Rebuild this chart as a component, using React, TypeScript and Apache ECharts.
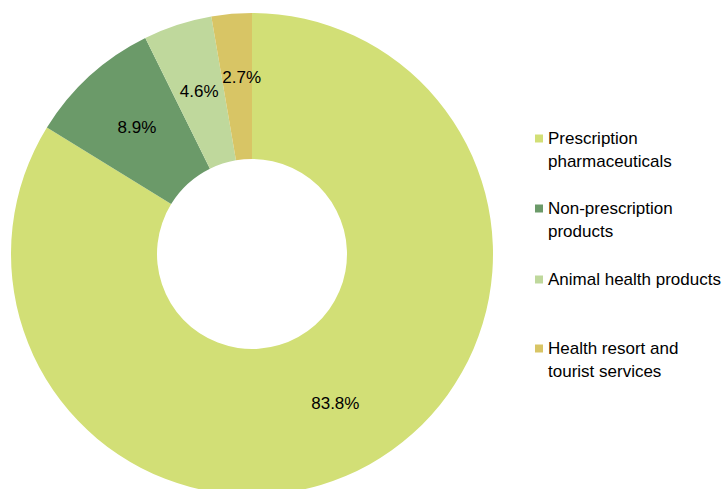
import React, { useEffect, useRef } from "react";
import * as echarts from "echarts";

const categories = [
  "Prescription\npharmaceuticals",
  "Non-prescription\nproducts",
  "Animal health products",
  "Health resort and\ntourist services",
];
const values = [83.8, 8.9, 4.6, 2.7];
const colors = ["#D2DF76", "#6B9A69", "#BFD89C", "#D8C565"];

const FONT = "'Liberation Sans', Arial, sans-serif";

export default function App() {
  const ref = useRef<HTMLDivElement>(null);
  useEffect(() => {
    if (!ref.current) return;
    const chart = echarts.init(ref.current, undefined, { renderer: "svg" });
    const legendTops = [104, 174, 268, 314];
    const legends = categories.map((c, i) => ({
      data: [c],
      left: 535,
      top: legendTops[i],
      padding: 0,
      icon: "rect",
      itemWidth: 8,
      itemHeight: 8,
      selectedMode: false,
      formatter: (name: string) => (name.includes("\n") ? "\n" + name : name),
      textStyle: {
        fontFamily: FONT,
        fontSize: 17,
        color: "#000",
        lineHeight: 23,
      },
    }));
    const data = categories.map((c, i) => {
      const item: any = { name: c, value: values[i] };
      if (i === 3) {
        // the slice is too thin for an "inside" label, so place it from the outer edge inward
        item.label = { position: "outside", distanceToLabelLine: -24 };
        item.labelLine = { show: false, length: -64, length2: 0 };
      }
      return item;
    });
    chart.setOption({
      animation: false,
      backgroundColor: "#fff",
      color: colors,
      legend: legends,
      series: [
        {
          type: "pie",
          center: [252, 254],
          radius: [95, 241],
          startAngle: 90,
          clockwise: true,
          avoidLabelOverlap: false,
          label: {
            show: true,
            position: "inside",
            fontFamily: FONT,
            fontSize: 17,
            color: "#000",
            formatter: (p: any) => p.value.toFixed(1) + "%",
          },
          labelLine: { show: false },
          emphasis: { disabled: true },
          data,
        },
      ],
    });
    return () => chart.dispose();
  }, []);
  return (
    <div
      ref={ref}
      style={{ position: "absolute", left: 0, top: 0, width: 723, height: 489 }}
    />
  );
}
